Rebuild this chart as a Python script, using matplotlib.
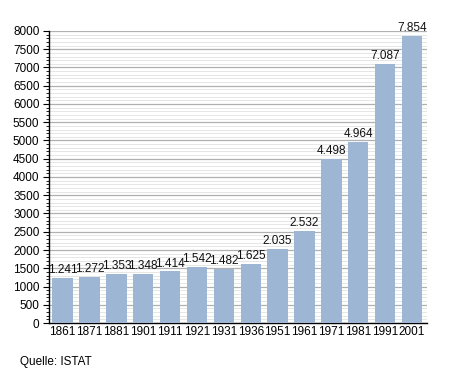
import matplotlib
matplotlib.use("Agg")
import matplotlib.pyplot as plt
from matplotlib.ticker import MultipleLocator

years = ["1861", "1871", "1881", "1901", "1911", "1921", "1931", "1936",
         "1951", "1961", "1971", "1981", "1991", "2001"]
population = [1241, 1272, 1353, 1348, 1414, 1542, 1482, 1625,
              2035, 2532, 4498, 4964, 7087, 7854]

plt.rcParams['font.family'] = ['Liberation Sans', 'DejaVu Sans']

fig = plt.figure(figsize=(4.55, 3.73), dpi=100)
ax = fig.add_axes([0.108, 0.134, 0.830, 0.783])

x = list(range(len(years)))
ax.bar(x, population, width=0.76, color="#9db6d3", zorder=3)
for xi, v in zip(x, population):
    ax.text(xi, v + 50, f"{v:,}".replace(",", "."), ha="center", va="bottom",
            fontsize=8.5, color="#111111", zorder=4)

ax.set_xlim(-0.5, len(years) - 0.45)
ax.set_ylim(0, 8000)
ax.set_xticks(x)
ax.set_xticklabels(years)
ax.yaxis.set_major_locator(MultipleLocator(500))
ax.yaxis.set_minor_locator(MultipleLocator(100))
ax.grid(axis="y", which="major", color="#b0b0b0", linewidth=0.9, zorder=0)
ax.grid(axis="y", which="minor", color="#e6e6e6", linewidth=0.7, zorder=0)
ax.tick_params(axis="both", labelsize=8.5, length=0, pad=2)
ax.tick_params(axis="y", which="major", length=4, direction="out", pad=3)
ax.tick_params(axis="y", which="minor", length=2, direction="out")
for s in ["top", "right"]:
    ax.spines[s].set_visible(False)
ax.spines["left"].set_linewidth(1.0)
ax.spines["bottom"].set_linewidth(1.0)

fig.text(20 / 455, 1 - 362 / 373, "Quelle: ISTAT", fontsize=8.5, va="center", ha="left")

fig.savefig("out.png", dpi=100)
